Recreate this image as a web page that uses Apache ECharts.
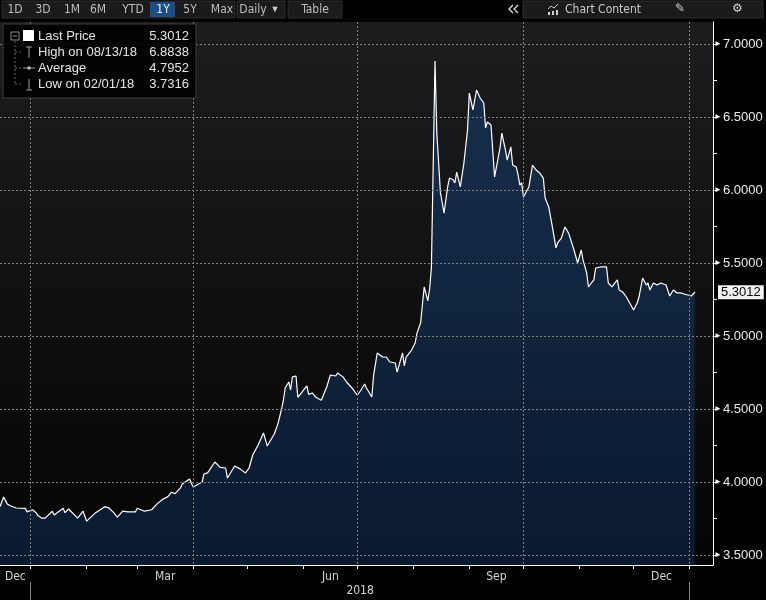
<!DOCTYPE html>
<html>
<head>
<meta charset="utf-8">
<script src="https://cdn.jsdelivr.net/npm/echarts@6/dist/echarts.min.js"></script>
<style>
  html, body { margin: 0; padding: 0; background: #000; }
  #chart { width: 766px; height: 600px; }
</style>
</head>
<body>
<div id="chart"></div>
<script>
// day offsets counted from 2018-01-01
const days = [
  -17, -15, -13, -11, -8, -3, -2, 1, 3, 4, 6, 8, 12, 13, 18, 19, 21, 26, 27, 29,
  31, 36, 41, 43, 46, 48, 51, 54, 58, 59, 63, 67, 70, 73, 76, 78, 80, 83, 84, 85,
  88, 90, 92, 95, 96, 98, 102, 105, 108, 109, 113, 116, 119, 121, 123, 126, 129, 131, 133, 135,
  137, 139, 140, 141, 143, 144, 145, 147, 148, 149, 153, 154, 156, 158, 161, 164, 166, 169, 170, 173,
  175, 176, 178, 180, 181, 183, 185, 186, 189, 190, 191, 192, 195, 197, 199, 202, 203, 206, 207, 208,
  211, 213, 214, 216, 217, 218, 220, 221, 222, 224, 225, 227, 228, 229, 231, 232, 234, 235, 236, 238,
  240, 242, 243, 245, 247, 249, 251, 252, 253, 255, 257, 260, 261, 263, 264, 266, 267, 269, 270, 271,
  272, 273, 276, 278, 280, 282, 284, 285, 287, 289, 291, 292, 294, 296, 298, 301, 303, 305, 306, 308,
  309, 311, 312, 313, 316, 317, 319, 320, 322, 323, 325, 326, 328, 330, 331, 334, 336, 337, 339, 341,
  342, 343, 345, 347, 349, 350, 352, 354, 356, 358, 360, 362, 364, 365, 366, 368
];
const prices = [
  3.83, 3.897, 3.85, 3.836, 3.822, 3.82, 3.795, 3.81, 3.79, 3.77, 3.753, 3.753, 3.80, 3.774, 3.82, 3.79, 3.815, 3.753, 3.76, 3.80,
  3.7316, 3.79, 3.83, 3.825, 3.79, 3.76, 3.80, 3.795, 3.795, 3.82, 3.80, 3.81, 3.85, 3.88, 3.90, 3.93, 3.92, 3.96, 3.986, 3.973,
  4.02, 3.966, 3.98, 4.00, 4.055, 4.062, 4.137, 4.10, 4.096, 4.027, 4.11, 4.09, 4.062, 4.096, 4.185, 4.253, 4.336, 4.247, 4.288, 4.33,
  4.40, 4.50, 4.56, 4.644, 4.685, 4.63, 4.72, 4.726, 4.58, 4.575, 4.658, 4.60, 4.61, 4.58, 4.56, 4.65, 4.733, 4.726, 4.747, 4.72,
  4.685, 4.69, 4.644, 4.61, 4.596, 4.63, 4.671, 4.644, 4.582, 4.733, 4.72, 4.884, 4.856, 4.856, 4.822, 4.815, 4.753, 4.884, 4.795, 4.856,
  4.904, 4.952, 5.02, 5.089, 5.096, 5.336, 5.24, 5.32, 5.47, 6.8838, 6.39, 5.98, 5.911, 5.842, 6.021, 6.082, 6.07, 6.048, 6.123, 6.021,
  6.185, 6.41, 6.664, 6.548, 6.685, 6.63, 6.596, 6.425, 6.466, 6.445, 6.089, 6.288, 6.39, 6.274, 6.205, 6.295, 6.171, 6.158, 6.103, 6.034,
  6.05, 5.952, 6.021, 6.171, 6.137, 6.116, 6.082, 5.945, 5.884, 5.747, 5.603, 5.64, 5.671, 5.747, 5.705, 5.589, 5.50, 5.589, 5.521, 5.432,
  5.336, 5.37, 5.384, 5.466, 5.473, 5.486, 5.473, 5.363, 5.336, 5.34, 5.384, 5.315, 5.301, 5.267, 5.26, 5.178, 5.226, 5.267, 5.397, 5.349,
  5.363, 5.315, 5.363, 5.349, 5.363, 5.37, 5.349, 5.274, 5.315, 5.295, 5.295, 5.288, 5.281, 5.29, 5.274, 5.3012
];

const monthStartDays = [0, 31, 59, 90, 120, 151, 181, 212, 243, 273, 304, 334, 365];
const quarterStartDays = [0, 90, 181, 273, 365];
const monthLabelDays = [-8.5, 74.5, 166, 258, 349.5];
const monthLabels = ['Dec', 'Mar', 'Jun', 'Sep', 'Dec'];
const yearSplitDays = [0, 365];
const yearLabelDays = [182.5];
const yearLabels = ['2018'];

const yTicks = [3.5, 4.0, 4.5, 5.0, 5.5, 6.0, 6.5, 7.0];
const yAllTicks = [3.5, 3.75, 4.0, 4.25, 4.5, 4.75, 5.0, 5.25, 5.5, 5.75, 6.0, 6.25, 6.5, 6.75, 7.0];

const lastPrice = 5.3012;
const legendNames = ['Last Price', 'High on 08/13/18', 'Average', 'Low on 02/01/18'];
const legendValues = ['5.3012', '6.8838', '4.7952', '3.7316'];

const periodButtons = ['1D', '3D', '1M', '6M', 'YTD', '1Y', '5Y', 'Max'];
const activePeriod = '1Y';

const chart = echarts.init(document.getElementById('chart'));

const font = "'Liberation Sans', Arial, sans-serif";
const narrow = "'Liberation Sans Narrow', 'DejaVu Sans Condensed', 'Liberation Sans', sans-serif";
const gridDash = { color: '#808080', type: [2, 2], width: 1 };
const X_MIN = -17, X_MAX = 378, Y_MIN = 3.4315, Y_MAX = 7.1507;

// toolbar pieces
const btnCenters = [15, 43, 72, 98, 133, 163, 190, 222];
const toolbar = [
  { type: 'rect', shape: { x: 2, y: 1, width: 233, height: 17 }, style: { fill: '#1b1b1b', stroke: '#2e2e2e' } },
  { type: 'rect', shape: { x: 150, y: 2, width: 25, height: 15 }, style: { fill: '#1d4d85' } },
  { type: 'rect', shape: { x: 237, y: 1, width: 48, height: 17 }, style: { fill: '#1b1b1b', stroke: '#2e2e2e' } },
  { type: 'rect', shape: { x: 288, y: 1, width: 54, height: 17 }, style: { fill: '#1b1b1b', stroke: '#2e2e2e' } },
  { type: 'rect', shape: { x: 523, y: 1, width: 240, height: 17 }, style: { fill: '#1b1b1b', stroke: '#2e2e2e' } }
];
periodButtons.forEach((t, i) => {
  toolbar.push({
    type: 'text', x: btnCenters[i], y: 10,
    style: { text: t, fill: t === activePeriod ? '#e8eef6' : '#bdbdbd', font: '12px ' + narrow, align: 'center', verticalAlign: 'middle' }
  });
});
toolbar.push(
  { type: 'text', x: 253, y: 10, style: { text: 'Daily', fill: '#bdbdbd', font: '12px ' + narrow, align: 'center', verticalAlign: 'middle' } },
  { type: 'text', x: 275, y: 10, style: { text: '▼', fill: '#d0d0d0', font: '9px ' + font, align: 'center', verticalAlign: 'middle' } },
  { type: 'text', x: 315, y: 10, style: { text: 'Table', fill: '#bdbdbd', font: '12px ' + narrow, align: 'center', verticalAlign: 'middle' } },
  { type: 'polyline', shape: { points: [[513, 5], [509, 9], [513, 13]] }, style: { stroke: '#e0e0e0', lineWidth: 1.3, fill: null } },
  { type: 'polyline', shape: { points: [[518, 5], [514, 9], [518, 13]] }, style: { stroke: '#e0e0e0', lineWidth: 1.3, fill: null } },
  { type: 'polyline', shape: { points: [[548, 9], [551, 6], [554, 8], [558, 4]] }, style: { stroke: '#d0d0d0', lineWidth: 1, fill: null } },
  { type: 'rect', shape: { x: 548, y: 12, width: 2, height: 3 }, style: { fill: '#d0d0d0' } },
  { type: 'rect', shape: { x: 552, y: 11, width: 2, height: 4 }, style: { fill: '#d0d0d0' } },
  { type: 'rect', shape: { x: 556, y: 10, width: 2, height: 5 }, style: { fill: '#d0d0d0' } },
  { type: 'text', x: 565, y: 10, style: { text: 'Chart Content', fill: '#c8c8c8', font: '12px ' + narrow, align: 'left', verticalAlign: 'middle' } },
  { type: 'text', x: 680, y: 9, style: { text: '✎', fill: '#d0d0d0', font: '12px ' + font, align: 'center', verticalAlign: 'middle' } },
  { type: 'text', x: 737, y: 9, style: { text: '⚙', fill: '#d0d0d0', font: '12px ' + font, align: 'center', verticalAlign: 'middle' } }
);

// legend box
const legendTop = 36, legendStep = 16;
const legend = [
  { type: 'rect', z: 20, shape: { x: 3, y: 24, width: 193, height: 74 }, style: { fill: 'rgba(0,0,0,0.9)', stroke: '#3c3c3c' } },
  { type: 'rect', z: 21, shape: { x: 11, y: 32, width: 8, height: 8 }, style: { fill: 'none', stroke: '#8a8a8a' } },
  { type: 'line', z: 21, shape: { x1: 13, y1: 36, x2: 17, y2: 36 }, style: { stroke: '#8a8a8a' } },
  { type: 'rect', z: 21, shape: { x: 23, y: 30, width: 11, height: 11 }, style: { fill: '#ffffff' } },
  { type: 'line', z: 21, shape: { x1: 15, y1: 41, x2: 15, y2: 84 }, style: { stroke: '#666', lineDash: [2, 2] } },
  { type: 'line', z: 21, shape: { x1: 15, y1: 52, x2: 22, y2: 52 }, style: { stroke: '#666', lineDash: [2, 2] } },
  { type: 'line', z: 21, shape: { x1: 15, y1: 68, x2: 22, y2: 68 }, style: { stroke: '#666', lineDash: [2, 2] } },
  { type: 'line', z: 21, shape: { x1: 15, y1: 84, x2: 22, y2: 84 }, style: { stroke: '#666', lineDash: [2, 2] } },
  { type: 'line', z: 21, shape: { x1: 29, y1: 47, x2: 29, y2: 58 }, style: { stroke: '#9a9a9a' } },
  { type: 'line', z: 21, shape: { x1: 26, y1: 47, x2: 32, y2: 47 }, style: { stroke: '#9a9a9a' } },
  { type: 'line', z: 21, shape: { x1: 23, y1: 68, x2: 35, y2: 68 }, style: { stroke: '#9a9a9a' } },
  { type: 'circle', z: 21, shape: { cx: 29, cy: 68, r: 1.8 }, style: { fill: '#bbbbbb' } },
  { type: 'line', z: 21, shape: { x1: 29, y1: 79, x2: 29, y2: 90 }, style: { stroke: '#9a9a9a' } },
  { type: 'line', z: 21, shape: { x1: 26, y1: 90, x2: 32, y2: 90 }, style: { stroke: '#9a9a9a' } }
];
legendNames.forEach((n, i) => {
  legend.push(
    { type: 'text', z: 21, x: 38, y: legendTop + i * legendStep, style: { text: n, fill: '#e6e6e6', font: '13px ' + font, verticalAlign: 'middle' } },
    { type: 'text', z: 21, x: 189, y: legendTop + i * legendStep, style: { text: legendValues[i], fill: '#e6e6e6', font: '13px ' + font, align: 'right', verticalAlign: 'middle' } }
  );
});

chart.setOption({
  backgroundColor: '#000',
  animation: false,
  grid: {
    left: 0, right: 53, top: 22, bottom: 35,
    show: true, borderWidth: 0,
    backgroundColor: new echarts.graphic.LinearGradient(0, 0, 0, 1, [
      { offset: 0, color: '#1d1d1f' },
      { offset: 1, color: '#040404' }
    ])
  },
  xAxis: [{
    // month ticks + month names
    type: 'value', min: X_MIN, max: X_MAX, position: 'bottom',
    axisLine: { show: true, onZero: false, lineStyle: { color: '#ffffff', width: 1 } },
    axisTick: { show: true, customValues: monthStartDays, length: 4, lineStyle: { color: '#ffffff' } },
    axisLabel: {
      customValues: monthLabelDays, margin: 6, color: '#d6d6d6', fontSize: 12, fontFamily: narrow,
      formatter: v => monthLabels[monthLabelDays.indexOf(v)]
    },
    splitLine: { show: false }
  }, {
    // year band under the months
    type: 'value', min: X_MIN, max: X_MAX, position: 'bottom', offset: 17,
    axisLine: { show: false, onZero: false },
    axisTick: { show: true, customValues: yearSplitDays, length: 18, lineStyle: { color: '#8a8a8a' } },
    axisLabel: {
      customValues: yearLabelDays, margin: 3, color: '#d6d6d6', fontSize: 12, fontFamily: narrow,
      formatter: v => yearLabels[yearLabelDays.indexOf(v)]
    },
    splitLine: { show: false }
  }, {
    // quarter grid lines drawn over the area
    type: 'value', min: X_MIN, max: X_MAX, position: 'top', z: 5,
    axisLine: { show: false, onZero: false },
    axisTick: { show: false, customValues: quarterStartDays },
    axisLabel: { show: false },
    splitLine: { show: true, lineStyle: gridDash }
  }],
  yAxis: [{
    type: 'value', position: 'right', min: Y_MIN, max: Y_MAX, z: 6,
    axisLine: { show: true, onZero: false, lineStyle: { color: '#ffffff', width: 1 } },
    axisTick: { show: true, customValues: yAllTicks, length: 4, lineStyle: { color: '#ffffff' } },
    axisLabel: {
      customValues: yTicks, margin: 1, color: '#ececec', fontSize: 13, fontFamily: font,
      formatter: v => '{a|►}' + v.toFixed(4),
      rich: { a: { fontSize: 8, color: '#ffffff', padding: [0, 1, 0, 0] } }
    },
    splitLine: { show: false }
  }, {
    // price grid lines drawn over the area
    type: 'value', position: 'left', min: Y_MIN, max: Y_MAX, z: 5,
    axisLine: { show: false, onZero: false },
    axisTick: { show: false, customValues: yTicks },
    axisLabel: { show: false },
    splitLine: { show: true, lineStyle: gridDash }
  }],
  series: [{
    type: 'line',
    xAxisIndex: 0, yAxisIndex: 0,
    data: days.map((d, i) => [d, prices[i]]),
    symbol: 'none',
    lineStyle: { color: '#ffffff', width: 1.2 },
    areaStyle: {
      origin: 'start',
      color: new echarts.graphic.LinearGradient(0, 0, 0, 1, [
        { offset: 0, color: '#15375f' },
        { offset: 1, color: '#0b2342' }
      ])
    },
    markLine: {
      silent: true, symbol: 'none', animation: false,
      data: [{
        yAxis: lastPrice,
        lineStyle: { color: 'rgba(0,0,0,0)', width: 0 },
        label: {
          show: true, position: 'end', distance: 5,
          formatter: lastPrice.toFixed(4),
          color: '#000', backgroundColor: '#f2f2f2',
          fontSize: 13, fontFamily: font, padding: [1, 3, 0, 3]
        }
      }]
    }
  }],
  graphic: toolbar.concat(legend)
});
</script>
</body>
</html>
